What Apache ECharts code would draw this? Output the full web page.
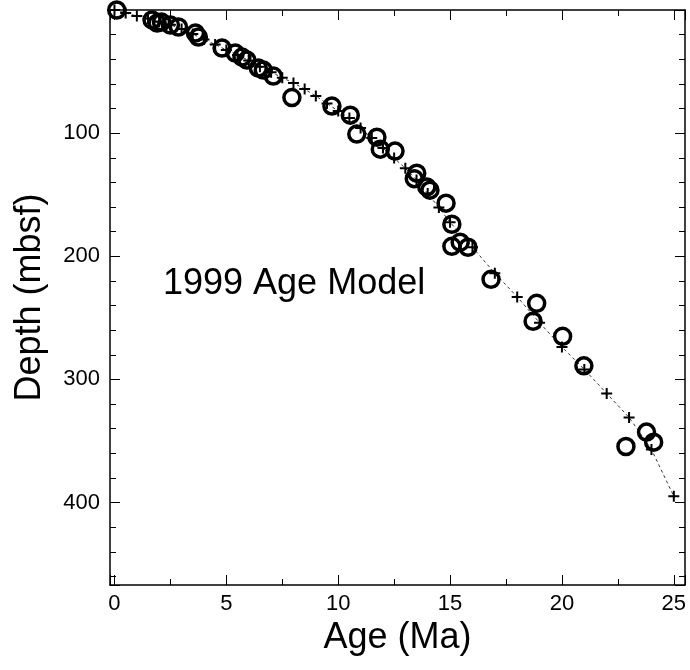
<!DOCTYPE html>
<html>
<head>
<meta charset="utf-8">
<script src="https://cdn.jsdelivr.net/npm/echarts@6/dist/echarts.min.js"></script>
<style>
html,body{margin:0;padding:0;background:#fff;}
#chart{width:690px;height:670px;}
</style>
</head>
<body>
<div id="chart"></div>
<script>
// Sample ages (Ma) and depths (mbsf) - open circles
var sampleAge = [0.1, 1.68, 1.91, 2.1, 2.5, 2.86, 3.62, 3.75, 4.81, 5.4, 5.7, 5.92, 6.43, 6.65, 7.1, 7.93, 9.72, 10.54, 10.83, 11.73, 11.88, 12.54, 13.51, 13.4, 13.96, 14.1, 14.82, 15.08, 15.08, 15.45, 15.8, 16.83, 18.87, 18.71, 20.03, 20.98, 22.86, 23.78, 24.1];
var sampleDepth = [0, 8.1, 10.6, 9.8, 12.2, 13.8, 18.7, 22, 30.9, 35, 38.2, 40.7, 47.2, 48.8, 53.7, 71.1, 78, 85.4, 100.8, 103.3, 113, 114.6, 132.5, 137, 143.7, 146.3, 156.9, 174, 191.9, 188.6, 192.7, 218.7, 238.2, 252.8, 265, 289, 354.5, 342.8, 351];

// 1999 age model control points (plus marks joined by dashed line)
var modelAge = [0, 0.5, 1, 1.5, 2, 2.5, 3, 3.5, 4, 4.5, 5, 5.5, 6, 6.5, 7, 7.5, 8, 8.5, 9, 9.5, 10, 10.5, 11, 11.5, 12, 12.5, 13, 13.5, 14, 14.5, 15, 16, 17, 18, 19, 20, 21, 22, 23, 24, 25];
var modelDepth = [0, 2.4, 4.9, 7, 9.5, 12, 15.5, 19.5, 24, 28, 32.5, 36.5, 41, 46, 50.5, 55, 59.3, 64.2, 69.9, 76, 82, 87.8, 95.9, 104, 112, 120.3, 128.5, 138, 149, 160.5, 172.4, 192.7, 213.8, 233, 254, 273.7, 291.9, 311.4, 330.9, 356.9, 395];

var xTitle = 'Age (Ma)';
var yTitle = 'Depth (mbsf)';
var annotation = '1999 Age Model';

var FONT = '"Liberation Sans", Arial, Helvetica, sans-serif';
var xMin = -0.2, xMax = 25.5, yMin = 0, yMax = 467;

function zip(a, b) { return a.map(function (v, i) { return [v, b[i]]; }); }

var plusPath = 'path://M4.5,0H6.5V4.5H11V6.5H6.5V11H4.5V6.5H0V4.5H4.5Z';

var axisLineStyle = { show: true, onZero: false, lineStyle: { color: '#000', width: 1.5 } };
var baseTick = { show: true, inside: true, length: 10, lineStyle: { color: '#000', width: 1 } };
var baseMinor = { show: true, length: 6, lineStyle: { color: '#000', width: 1 } };

var chart = echarts.init(document.getElementById('chart'), null, { renderer: 'canvas' });
chart.setOption({
  animation: false,
  backgroundColor: '#fff',
  grid: { left: 110, right: 5, top: 10, bottom: 85, containLabel: false },
  xAxis: [
    {
      type: 'value', min: xMin, max: xMax, splitNumber: 5, position: 'bottom',
      name: xTitle, nameLocation: 'middle', nameGap: 34,
      nameTextStyle: { fontFamily: FONT, fontSize: 36, color: '#000' },
      axisLine: axisLineStyle,
      axisTick: baseTick,
      minorTick: Object.assign({ splitNumber: 2 }, baseMinor),
      axisLabel: { fontFamily: FONT, fontSize: 22, color: '#000', margin: 8, showMinLabel: false, showMaxLabel: false },
      splitLine: { show: false }
    },
    {
      type: 'value', min: xMin, max: xMax, splitNumber: 5, position: 'top',
      axisLine: axisLineStyle,
      axisTick: baseTick,
      minorTick: Object.assign({ splitNumber: 2 }, baseMinor),
      axisLabel: { show: false },
      splitLine: { show: false }
    }
  ],
  yAxis: [
    {
      type: 'value', min: yMin, max: yMax, inverse: true, splitNumber: 5, position: 'left',
      name: yTitle, nameLocation: 'middle', nameGap: 62,
      nameTextStyle: { fontFamily: FONT, fontSize: 36, color: '#000' },
      axisLine: axisLineStyle,
      axisTick: baseTick,
      minorTick: Object.assign({ splitNumber: 5 }, baseMinor),
      axisLabel: { fontFamily: FONT, fontSize: 22, color: '#000', margin: 10, showMinLabel: false, showMaxLabel: false },
      splitLine: { show: false }
    },
    {
      type: 'value', min: yMin, max: yMax, inverse: true, splitNumber: 5, position: 'right',
      axisLine: axisLineStyle,
      axisTick: baseTick,
      minorTick: Object.assign({ splitNumber: 5 }, baseMinor),
      axisLabel: { show: false },
      splitLine: { show: false }
    }
  ],
  graphic: [
    {
      type: 'text', left: 163, top: 266,
      style: { text: annotation, fontFamily: FONT, fontSize: 36, fill: '#000' }
    }
  ],
  series: [
    {
      type: 'line', xAxisIndex: 0, yAxisIndex: 0,
      data: zip(modelAge, modelDepth),
      symbol: plusPath, symbolSize: 11, showAllSymbol: true,
      itemStyle: { color: '#000', opacity: 1 },
      lineStyle: { color: '#000', width: 0.8, type: [3, 3] },
      z: 2
    },
    {
      type: 'scatter', xAxisIndex: 0, yAxisIndex: 0,
      data: zip(sampleAge, sampleDepth),
      symbol: 'circle', symbolSize: 16,
      itemStyle: { color: 'rgba(0,0,0,0)', borderColor: '#000', borderWidth: 3.5, opacity: 1 },
      z: 3
    }
  ]
});
</script>
</body>
</html>
